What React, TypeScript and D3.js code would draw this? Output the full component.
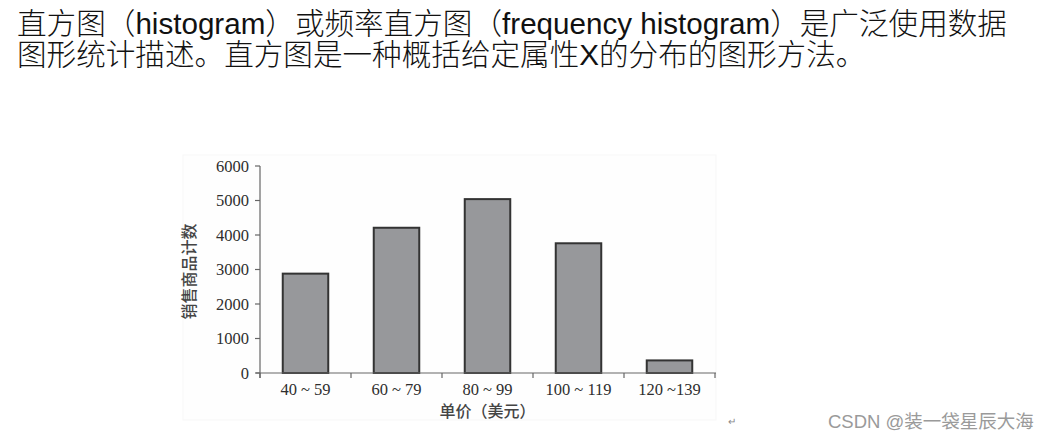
import React from "react";
import * as d3 from "d3";

const categories = ["40 ~ 59", "60 ~ 79", "80 ~ 99", "100 ~ 119", "120 ~139"];
const counts = [2880, 4210, 5040, 3760, 365];
const yTicks = [0, 1000, 2000, 3000, 4000, 5000, 6000];
const yTitle = "销售商品计数";
const xTitle = "单价（美元）";
const headerLine1 = [
  "直方图（",
  "histogram",
  "）或频率直方图（",
  "frequency histogram",
  "）是广泛使用数据",
];
const headerLine2 = "图形统计描述。直方图是一种概括给定属性X的分布的图形方法。";
const watermark = "CSDN @装一袋星辰大海";

const W = 1054;
const H = 440;

export default function App() {
  const x = d3
    .scaleBand<string>()
    .domain(categories)
    .range([260, 715])
    .paddingInner(0.5)
    .paddingOuter(0.25);
  const y = d3.scaleLinear().domain([0, 6000]).range([373, 166]);
  const [x0, x1] = x.range();
  const y0 = y(0);
  const serif = "'Liberation Serif', 'Times New Roman', serif";
  const cjk = "'Noto Sans CJK SC', sans-serif";
  const sans = "'Liberation Sans', Arial, 'Noto Sans CJK SC', sans-serif";
  const boundaries = d3.range(categories.length + 1).map((i) => x0 + i * x.step());

  return (
    <svg
      width={W}
      height={H}
      style={{ position: "absolute", left: 0, top: 0, background: "#fff" }}
    >
      <rect x={0} y={0} width={W} height={H} fill="#fff" />
      {/* header text */}
      <text x={17} y={34} fontFamily={sans} fontSize={29.6} fontWeight={300} fill="#111">
        {headerLine1.map((s, i) => (
          <tspan key={i}>{s}</tspan>
        ))}
      </text>
      <text x={17} y={65} fontFamily={sans} fontSize={29.6} fontWeight={300} fill="#111">
        {headerLine2}
      </text>

      {/* faint image frame */}
      <rect x={183} y={155} width={533} height={265} fill="#fefefe" stroke="#f7f7f7" />

      {/* bars */}
      {categories.map((c, i) => (
        <rect
          key={c}
          x={x(c)}
          y={y(counts[i])}
          width={x.bandwidth()}
          height={y0 - y(counts[i])}
          fill="#97989b"
          stroke="#333"
          strokeWidth={2}
        />
      ))}

      {/* y axis */}
      <line x1={x0} x2={x0} y1={y(6000)} y2={y0 + 5} stroke="#666" strokeWidth={1.2} />
      {yTicks.map((t) => (
        <g key={t}>
          <line x1={x0 - 5} x2={x0} y1={y(t)} y2={y(t)} stroke="#666" strokeWidth={1.2} />
          <text
            x={x0 - 11}
            y={y(t)}
            dy="0.35em"
            textAnchor="end"
            fontFamily={serif}
            fontSize={16.5}
            fill="#2e2e2e"
          >
            {t}
          </text>
        </g>
      ))}

      {/* x axis */}
      <line x1={x0 - 4} x2={x1 + 1} y1={y0} y2={y0} stroke="#666" strokeWidth={1.2} />
      {boundaries.map((b, i) => (
        <line key={i} x1={b} x2={b} y1={y0} y2={y0 + 5} stroke="#666" strokeWidth={1.2} />
      ))}
      {categories.map((c) => (
        <text
          key={c}
          x={(x(c) as number) + x.bandwidth() / 2}
          y={395}
          textAnchor="middle"
          fontFamily={serif}
          fontSize={16.5}
          fill="#2e2e2e"
        >
          {c}
        </text>
      ))}

      {/* axis titles */}
      <text
        transform={`translate(195, ${(y(6000) + y0) / 2 + 2}) rotate(-90)`}
        textAnchor="middle"
        fontFamily={cjk}
        fontSize={16}
        fontWeight={500}
        fill="#444"
      >
        {yTitle}
      </text>
      <text
        x={(x0 + x1) / 2}
        y={417}
        textAnchor="middle"
        fontFamily={cjk}
        fontSize={16}
        fontWeight={500}
        fill="#444"
      >
        {xTitle}
      </text>

      {/* return mark and watermark */}
      <text x={728} y={425} fontFamily={sans} fontSize={10} fill="#888">
        ↵
      </text>
      <text x={828} y={428} fontFamily={sans} fontSize={18.5} fill="#9a9a9a">
        {watermark}
      </text>
    </svg>
  );
}
